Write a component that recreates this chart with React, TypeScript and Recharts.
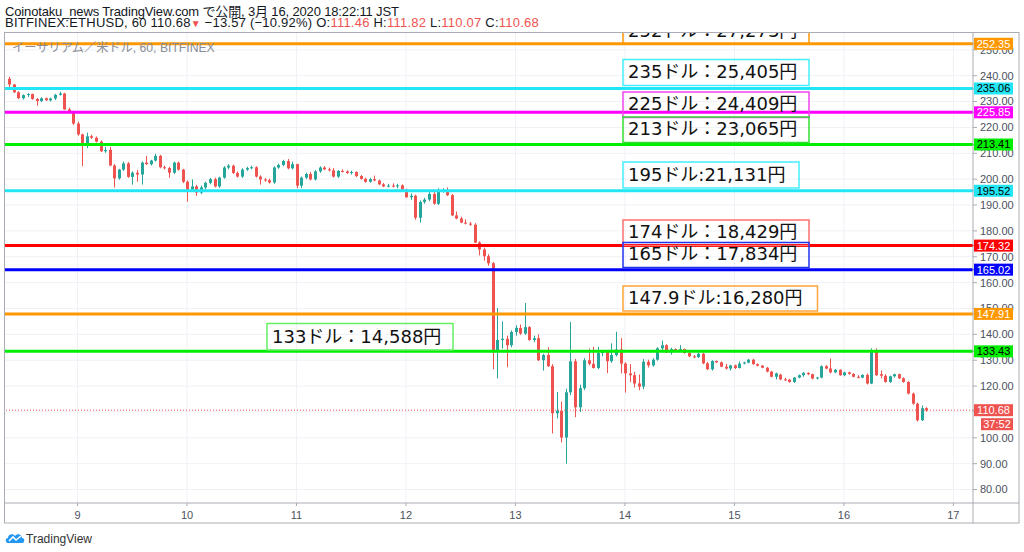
import React from 'react';
import { ComposedChart, Bar, XAxis, YAxis, CartesianGrid, ReferenceLine } from 'recharts';

// ETHUSD 1h candles, [open, high, low, close]
const mar8 = [
  [238.8, 239.6, 234.8, 236.6], [236.6, 236.8, 233.3, 233.6], [233.6, 234.0, 231.0, 231.3],
  [231.3, 232.8, 230.8, 232.5], [232.5, 233.3, 231.8, 232.9], [232.9, 233.1, 230.7, 231.0],
  [231.0, 231.4, 228.4, 230.2], [230.2, 231.6, 229.8, 231.3], [231.3, 231.6, 230.3, 230.5],
  [230.5, 231.5, 230.0, 231.2], [231.2, 233.0, 230.6, 232.6], [232.6, 233.8, 232.3, 233.1],
  [233.1, 233.4, 226.8, 227.0], [227.0, 227.6, 225.8, 226.1], [226.1, 226.5, 221.0, 221.5],
];
const mar9 = [
  [221.5, 222.2, 216.8, 217.3], [217.3, 217.6, 205.0, 213.5], [213.5, 218.0, 212.0, 216.6],
  [216.6, 217.2, 215.6, 216.0], [216.0, 216.5, 214.2, 214.5], [214.5, 215.0, 210.5, 210.8],
  [210.8, 212.5, 210.2, 211.3], [211.3, 212.5, 205.0, 205.3], [205.3, 205.8, 196.8, 200.3],
  [200.3, 204.0, 199.8, 203.7], [203.7, 206.8, 203.2, 206.1], [206.1, 206.6, 200.5, 200.9],
  [200.9, 203.0, 197.9, 202.5], [202.5, 203.5, 199.0, 201.8], [201.8, 206.8, 197.9, 206.4],
  [206.4, 209.0, 205.5, 205.8], [205.8, 207.5, 205.3, 207.2], [207.2, 209.8, 206.8, 209.0],
  [209.0, 209.4, 204.2, 204.6], [204.6, 205.2, 203.8, 204.3], [204.3, 204.8, 200.5, 202.5],
  [202.5, 206.8, 202.0, 206.4], [206.4, 206.8, 203.3, 203.7], [203.7, 204.0, 198.5, 199.0],
];
const mar10 = [
  [199.0, 199.5, 191.3, 196.0], [196.0, 199.9, 195.5, 197.2], [197.2, 197.8, 193.5, 194.8],
  [194.8, 197.5, 194.2, 196.8], [196.8, 199.0, 196.0, 198.6], [198.6, 200.5, 198.0, 200.0],
  [200.0, 200.6, 196.8, 197.2], [197.2, 201.0, 196.6, 200.6], [200.6, 205.0, 200.2, 204.5],
  [204.5, 205.8, 203.8, 205.2], [205.2, 205.6, 202.0, 202.4], [202.4, 203.0, 200.6, 201.0],
  [201.0, 204.2, 200.5, 203.7], [203.7, 204.8, 203.2, 204.3], [204.3, 205.2, 203.8, 204.6],
  [204.6, 205.0, 200.6, 201.0], [201.0, 201.5, 197.9, 199.9], [199.9, 200.4, 199.0, 199.6],
  [199.6, 200.2, 198.3, 198.7], [198.7, 205.0, 198.2, 204.5], [204.5, 206.0, 204.0, 205.5],
  [205.5, 207.5, 205.0, 207.0], [207.0, 207.8, 203.8, 204.2], [204.2, 206.8, 203.8, 205.8],
];
const mar11 = [
  [205.8, 206.0, 196.5, 197.5], [197.5, 201.0, 196.5, 200.6], [200.6, 202.5, 200.0, 202.0],
  [202.0, 202.8, 199.5, 199.9], [199.9, 203.5, 199.5, 203.0], [203.0, 205.0, 202.5, 204.5],
  [204.5, 205.0, 203.5, 203.8], [203.8, 204.5, 203.0, 203.4], [203.4, 204.3, 200.6, 201.0],
  [201.0, 203.5, 200.5, 203.2], [203.2, 203.8, 202.6, 203.0], [203.0, 203.4, 202.0, 202.4],
  [202.4, 203.3, 201.8, 202.8], [202.8, 203.0, 200.8, 201.2], [201.2, 201.6, 199.8, 200.1],
  [200.1, 200.6, 198.6, 199.0], [199.0, 200.5, 198.6, 200.0], [200.0, 201.4, 199.2, 199.5],
  [199.5, 199.8, 197.7, 198.0], [198.0, 198.5, 196.9, 197.2], [197.2, 198.2, 196.8, 197.5],
  [197.5, 198.4, 196.8, 197.3], [197.3, 198.2, 196.5, 197.6], [197.6, 198.0, 195.8, 196.0],
];
const mar12 = [
  [196.0, 196.3, 192.8, 193.0], [193.0, 194.5, 192.0, 193.6], [193.6, 194.0, 184.3, 185.1],
  [185.1, 191.8, 183.2, 191.2], [191.2, 192.8, 190.5, 192.1], [192.1, 195.0, 191.5, 194.3],
  [194.3, 195.0, 190.2, 190.5], [190.5, 196.5, 190.0, 195.2], [195.2, 196.5, 194.8, 195.6],
  [195.6, 196.8, 193.5, 193.8], [193.8, 194.3, 185.8, 186.0], [186.0, 187.5, 184.5, 184.8],
  [184.8, 185.5, 183.0, 183.2], [183.2, 184.5, 182.5, 182.8], [182.8, 183.5, 182.0, 182.4],
  [182.4, 183.0, 175.3, 175.5], [175.5, 176.0, 170.5, 172.8], [172.8, 173.5, 168.5, 170.2],
  [170.2, 171.0, 166.5, 167.5], [167.5, 168.0, 126.5, 133.9], [133.9, 150.2, 123.0, 137.8],
  [137.8, 145.0, 134.5, 138.3], [138.3, 139.5, 127.3, 135.8], [135.8, 141.5, 135.0, 140.9],
];
const mar13 = [
  [140.9, 143.5, 139.5, 142.5], [142.5, 143.8, 139.8, 140.3], [140.3, 152.1, 139.8, 142.8],
  [142.8, 143.2, 137.5, 137.8], [137.8, 139.5, 137.0, 138.5], [138.5, 140.0, 129.7, 130.0],
  [130.0, 132.5, 126.0, 132.0], [132.0, 135.0, 127.4, 127.7], [127.7, 128.5, 101.7, 109.5],
  [109.5, 117.7, 107.5, 110.5], [110.5, 114.0, 98.2, 100.1], [100.1, 119.0, 90.0, 117.6],
  [117.6, 144.8, 116.5, 129.6], [129.6, 130.5, 108.0, 111.8], [111.8, 120.5, 110.0, 119.2],
  [119.2, 130.8, 118.5, 130.0], [130.0, 134.5, 128.0, 128.6], [128.6, 135.2, 126.8, 127.0],
  [127.0, 135.2, 126.5, 132.8], [132.8, 134.0, 131.5, 133.5], [133.5, 134.0, 125.0, 129.6],
  [129.6, 136.5, 129.0, 132.0], [132.0, 141.0, 131.5, 134.2], [134.2, 138.6, 124.9, 128.7],
];
const mar14 = [
  [128.7, 129.2, 117.5, 124.9], [124.9, 128.5, 121.5, 124.2], [124.2, 125.5, 119.5, 121.0],
  [121.0, 124.5, 118.4, 119.8], [119.8, 130.5, 118.8, 129.4], [129.4, 130.2, 127.2, 128.0],
  [128.0, 130.8, 127.5, 130.2], [130.2, 135.0, 129.8, 134.6], [134.6, 137.6, 133.8, 135.8],
  [135.8, 136.2, 132.8, 133.0], [133.0, 134.8, 132.2, 134.3], [134.3, 134.6, 133.6, 134.0],
  [134.0, 135.8, 133.7, 134.3], [134.3, 134.5, 132.5, 132.8], [132.8, 133.0, 131.2, 131.5],
  [131.5, 132.0, 130.8, 131.2], [131.2, 132.8, 130.9, 132.5], [132.5, 132.9, 128.5, 128.8],
  [128.8, 129.3, 126.2, 126.5], [126.5, 130.0, 126.0, 129.7], [129.7, 129.9, 128.9, 129.2],
  [129.2, 129.5, 127.3, 127.5], [127.5, 128.6, 126.4, 126.8], [126.8, 128.2, 126.0, 128.0],
];
const mar15 = [
  [128.0, 128.3, 126.6, 127.0], [127.0, 129.5, 126.8, 128.7], [128.7, 129.4, 128.4, 129.1],
  [129.1, 130.5, 128.8, 130.2], [130.2, 130.5, 128.2, 128.5], [128.5, 128.8, 127.6, 127.9],
  [127.9, 128.1, 126.9, 127.1], [127.1, 127.4, 125.3, 125.6], [125.6, 125.9, 123.4, 123.6],
  [123.6, 125.2, 122.6, 124.9], [124.4, 124.8, 122.3, 122.6], [122.6, 123.2, 122.0, 122.3],
  [122.5, 122.8, 121.3, 121.6], [121.6, 123.5, 121.2, 123.3], [123.3, 124.5, 123.0, 124.2],
  [124.2, 125.4, 123.6, 125.1], [125.1, 125.3, 124.2, 124.6], [124.6, 124.8, 122.6, 122.9],
  [122.9, 123.6, 122.6, 123.3], [123.3, 128.0, 123.0, 127.7], [127.7, 128.1, 126.5, 126.8],
  [126.8, 130.7, 124.9, 125.3], [125.3, 126.6, 125.0, 126.3], [126.3, 126.5, 124.0, 124.2],
];
const mar16 = [
  [124.2, 125.6, 123.8, 125.3], [125.3, 125.6, 124.4, 124.7], [124.7, 125.0, 123.4, 123.6],
  [123.6, 124.2, 123.0, 123.3], [123.3, 124.6, 123.0, 124.3], [124.3, 124.9, 120.6, 121.0],
  [121.0, 134.6, 120.8, 133.3], [133.3, 134.6, 123.9, 124.2], [124.6, 126.0, 123.0, 124.0],
  [124.0, 124.6, 121.3, 121.6], [121.6, 124.0, 121.2, 123.8], [123.8, 124.8, 123.3, 124.6],
  [124.6, 124.8, 122.7, 123.0], [123.0, 123.4, 121.3, 121.6], [121.6, 121.9, 116.8, 117.1],
  [117.1, 117.5, 112.8, 113.2], [113.2, 113.6, 106.3, 106.8], [106.8, 112.5, 106.5, 111.46],
  [111.46, 111.82, 110.07, 110.68],
];

const firstHour = 9; // first candle: Mar 8 09:00, x counted in hours from Mar 8 00:00
const dayTicks = [24, 48, 72, 96, 120, 144, 168, 192, 216];
const dayLabels = ['9', '10', '11', '12', '13', '14', '15', '16', '17'];
const priceTicks = [80, 90, 100, 110, 120, 130, 140, 150, 160, 170, 180, 190, 200, 210, 220, 230, 240, 250];

const levelPrices = [252.35, 235.06, 225.85, 213.41, 195.52, 174.32, 165.02, 147.91, 133.43];
const noteTexts = [
  '252ドル：27,273円', '235ドル：25,405円', '225ドル：24,409円', '213ドル：23,065円', '195ドル:21,131円',
  '174ドル：18,429円', '165ドル：17,834円', '147.9ドル:16,280円', '133ドル：14,588円',
];
const lastPrice = 110.68;
const countdown = '37:52';

const UP = '#26a69a';
const DOWN = '#ef5350';
const FONT = '"Liberation Sans", Arial, "Noto Sans CJK JP", sans-serif';
const NOTE_FONT = '"DejaVu Sans", "Noto Sans CJK JP", sans-serif';
const X_DOMAIN = [8.1, 220.3];
const Y_DOMAIN = [74.8, 256.9];
const MARGIN = { top: 32, right: 5, bottom: 29, left: 5 };

const levelStyles = [
  { line: '#ff9800', text: '#ffffff', note: '#ff9800' },
  { line: '#22e6f5', text: '#000000', note: '#44eeff' },
  { line: '#ff00ff', text: '#ffffff', note: '#ee44ee' },
  { line: '#00ee00', text: '#000000', note: '#33dd33' },
  { line: '#22e6f5', text: '#000000', note: '#44eeff' },
  { line: '#ff0000', text: '#ffffff', note: '#ff6f6f' },
  { line: '#0000ff', text: '#ffffff', note: '#2233ee' },
  { line: '#ff9800', text: '#ffffff', note: '#ffa53a' },
  { line: '#00ee00', text: '#000000', note: '#66ee66' },
];
// note boxes, page pixels
const noteBoxes = [
  { x: 623, y: 18, w: 186, h: 26 },
  { x: 623, y: 59.5, w: 186, h: 26 },
  { x: 623, y: 92, w: 186, h: 25.5 },
  { x: 623, y: 117, w: 186, h: 25.5 },
  { x: 623, y: 162, w: 176, h: 26 },
  { x: 623, y: 220, w: 186, h: 25.5 },
  { x: 623, y: 242.5, w: 186, h: 25 },
  { x: 623, y: 286, w: 194.5, h: 25 },
  { x: 267, y: 323.5, w: 186, h: 26.5 },
];

const table = [mar8, mar9, mar10, mar11, mar12, mar13, mar14, mar15, mar16].flat().map((c, i) => ({
  t: firstHour + i,
  open: c[0],
  high: c[1],
  low: c[2],
  close: c[3],
  range: [c[2], c[1]],
}));

const Candle = (props: any) => {
  const { x, y, width, height, payload } = props;
  if (x == null || y == null || !payload) return null;
  const { open, close, high, low } = payload;
  const color = close >= open ? UP : DOWN;
  const top = Math.min(y, y + height);
  const h = Math.abs(height);
  const k = h / (high - low);
  const cx = Math.round(x + width / 2);
  const bodyTop = top + (high - Math.max(open, close)) * k;
  const bodyH = Math.max(1, Math.abs(open - close) * k);
  return (
    <g>
      <line x1={cx + 0.5} x2={cx + 0.5} y1={top} y2={top + h} stroke={color} strokeWidth={1} />
      <rect x={cx - 1} y={bodyTop} width={3} height={bodyH} fill={color} />
    </g>
  );
};

const PriceTag = ({ viewBox, bg, color, text, extra }: any) => {
  const x = viewBox.x + viewBox.width;
  const y = viewBox.y + viewBox.height / 2;
  return (
    <g>
      <line x1={x} x2={x + 4} y1={y} y2={y} stroke={bg} />
      <rect x={x + 1} y={y - 6} width={39} height={12} fill={bg} />
      <text x={x + 20.5} y={y + 4} textAnchor="middle" fontSize={11} fontFamily={FONT} fill={color}>{text}</text>
      {extra && (
        <g>
          <rect x={x + 8} y={y + 8} width={32} height={12} fill={bg} />
          <text x={x + 24} y={y + 18} textAnchor="middle" fontSize={11} fontFamily={FONT} fill={color}>{extra}</text>
        </g>
      )}
    </g>
  );
};

const Header = () => (
  <div style={{ position: 'absolute', left: 5, top: 6, fontFamily: FONT, fontSize: 13, lineHeight: '11px', color: '#131722', whiteSpace: 'nowrap' }}>
    <div style={{ letterSpacing: -0.15 }}>Coinotaku_news TradingView.com で公開, 3月 16, 2020 18:22:11 JST</div>
    <div style={{ letterSpacing: 0.23 }}>
      BITFINEX:ETHUSD, 60 110.68<span style={{ color: DOWN, fontSize: 10 }}>▼</span> −13.57 (−10.92%) O:<span style={{ color: DOWN }}>111.46</span> H:<span style={{ color: DOWN }}>111.82</span> L:<span style={{ color: DOWN }}>110.07</span> C:<span style={{ color: DOWN }}>110.68</span>
    </div>
  </div>
);

const Overlay = () => (
  <svg width={1024} height={552} style={{ position: 'absolute', left: 0, top: 0, pointerEvents: 'none' }}>
    <defs>
      <clipPath id="pane">
        <rect x={5} y={33} width={968} height={470} />
      </clipPath>
    </defs>
    <text x={12} y={51.5} fontSize={12.2} fontFamily={FONT} fill="#8a8d96">イーサリアム／米ドル, 60, BITFINEX</text>
    <g clipPath="url(#pane)">
      {noteBoxes.map((b, i) => (
        <g key={i}>
          <rect x={b.x} y={b.y} width={b.w} height={b.h} fill="none" stroke={levelStyles[i].note} strokeWidth={1.5} />
          <text x={b.x + 5} y={b.y + b.h - 7.2} fontSize={18} fontFamily={NOTE_FONT} fill="#111">{noteTexts[i]}</text>
        </g>
      ))}
    </g>
    <rect x={4.5} y={32.5} width={1014.5} height={490.5} fill="none" stroke="#a9acb4" />
    <line x1={5} x2={1019} y1={503} y2={503} stroke="#a9acb4" />
    <line x1={973} x2={973} y1={32} y2={523} stroke="#a9acb4" />
    <g transform="translate(5,532)">
      <path d="M3 11 C0 11 0 6 3 6 C3 2 8 1 10 4 C12 1 17 2 17 6 C20 6 20 11 17 11 Z" fill="#2196f3" />
      <path d="M4 9 L8 5 L11 8 L16 4" fill="none" stroke="#fff" strokeWidth={1.6} />
    </g>
    <text x={26} y={542.5} fontSize={12} fontFamily={FONT} fill="#333">TradingView</text>
  </svg>
);

const layer: React.CSSProperties = { position: 'absolute', left: 0, top: 0 };

export default function App() {
  return (
    <div style={{ position: 'absolute', left: 0, top: 0, width: 1024, height: 552, background: '#fff' }}>
      <div style={layer}>
        <ComposedChart width={1024} height={552} data={table} margin={MARGIN}>
          <CartesianGrid stroke="#eef1f6" verticalValues={dayTicks} horizontalValues={priceTicks} />
          <XAxis
            dataKey="t"
            type="number"
            domain={X_DOMAIN}
            allowDataOverflow
            ticks={dayTicks}
            tickFormatter={(v: number) => dayLabels[dayTicks.indexOf(v)]}
            height={20}
            axisLine={false}
            tickLine={{ stroke: '#a9acb4' }}
            tickSize={3}
            tickMargin={5}
            tick={{ fontSize: 11, fill: '#4c525e', fontFamily: FONT }}
          />
          <YAxis
            orientation="right"
            domain={Y_DOMAIN}
            allowDataOverflow
            ticks={priceTicks}
            tickFormatter={(v: number) => v.toFixed(2)}
            width={46}
            axisLine={false}
            tickLine={{ stroke: '#a9acb4' }}
            tickSize={4}
            tickMargin={3}
            tick={{ fontSize: 11, fill: '#4c525e', fontFamily: FONT }}
          />
          <Bar dataKey="range" barSize={3} shape={(p: any) => <Candle {...p} />} isAnimationActive={false} />
        </ComposedChart>
      </div>
      {/* second chart on top, same scales: horizontal levels and their price tags over the axis labels */}
      <div style={layer}>
        <ComposedChart width={1024} height={552} data={table} margin={MARGIN}>
          <XAxis dataKey="t" type="number" domain={X_DOMAIN} allowDataOverflow height={20} tick={false} axisLine={false} tickLine={false} />
          <YAxis orientation="right" domain={Y_DOMAIN} allowDataOverflow width={46} tick={false} axisLine={false} tickLine={false} />
          <ReferenceLine
            y={lastPrice}
            stroke={DOWN}
            strokeDasharray="1 2"
            label={(lp: any) => <PriceTag viewBox={lp.viewBox} bg={DOWN} color="#fff" text={lastPrice.toFixed(2)} extra={countdown} />}
          />
          {levelPrices.map((p, i) => (
            <ReferenceLine
              key={p}
              y={p}
              stroke={levelStyles[i].line}
              strokeWidth={3}
              label={(lp: any) => <PriceTag viewBox={lp.viewBox} bg={levelStyles[i].line} color={levelStyles[i].text} text={p.toFixed(2)} />}
            />
          ))}
        </ComposedChart>
      </div>
      <Header />
      <Overlay />
    </div>
  );
}
